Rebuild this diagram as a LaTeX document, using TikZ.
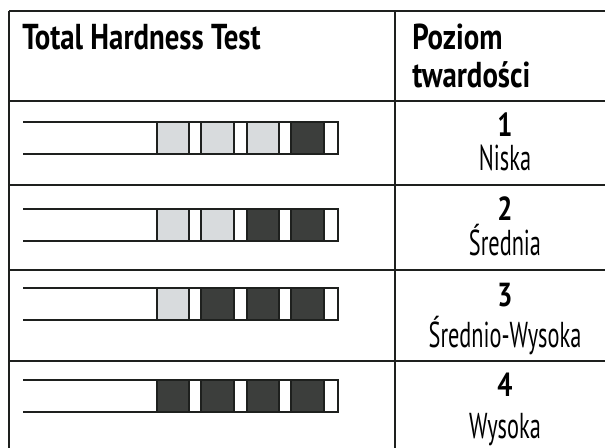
\documentclass[tikz,border=0pt]{standalone}
\usepackage{fontspec}
\setmainfont{PT Sans}[FakeStretch=0.62]
\newfontfamily\headfont{PT Sans}[FakeStretch=0.8]
\definecolor{padlight}{RGB}{216,219,221}
\definecolor{paddark}{RGB}{60,62,60}
\definecolor{rulecol}{RGB}{30,32,30}

\begin{document}
\begin{tikzpicture}[x=0.75pt,y=0.75pt,yscale=-1,xscale=1,
  rule/.style={draw=rulecol,line width=2.2pt},
  stripline/.style={draw=rulecol,line width=1.1pt},
  lightpad/.style={fill=padlight,draw=rulecol,line width=1.1pt},
  darkpad/.style={fill=paddark,draw=rulecol,line width=1.1pt},
  head/.style={anchor=base west,inner sep=0pt,font=\headfont\bfseries\fontsize{27}{30}\selectfont},
  num/.style={anchor=base,inner sep=0pt,font=\headfont\bfseries\fontsize{25}{28}\selectfont},
  lvl/.style={anchor=base,inner sep=0pt,font=\fontsize{27}{30}\selectfont}]
\useasboundingbox (0,0) rectangle (605,448);
\clip (0,0) rectangle (605,448);

%Table rules
\draw[rule] (9,11) -- (615,11);
\draw[rule] (9,101) -- (615,101);
\draw[rule] (9,185) -- (615,185);
\draw[rule] (9,270) -- (615,270);
\draw[rule] (9,361) -- (615,361);
\draw[rule] (9,11) -- (9,460);
\draw[rule] (395,11) -- (395,460);

%Test strips
\foreach \y/\a/\b/\c/\d in {122/lightpad/lightpad/lightpad/darkpad,
  209/lightpad/lightpad/darkpad/darkpad,
  288/lightpad/darkpad/darkpad/darkpad,
  380/darkpad/darkpad/darkpad/darkpad} {
  \draw[stripline] (23,\y) -- (338,\y) -- (338,\y+32) -- (23,\y+32);
  \draw[\a] (157,\y) rectangle (189,\y+32);
  \draw[\b] (201,\y) rectangle (234,\y+32);
  \draw[\c] (247,\y) rectangle (279,\y+32);
  \draw[\d] (291,\y) rectangle (324,\y+32);
}

% Text Node
\node[head] (title) at (22,50) {Total Hardness Test};
\node[head] (levela) at (412,50) {Poziom};
\node[head] (levelb) at (412,88) {twardości};
% Text Node
\node[num] (num1) at (505,137) {1};
\node[lvl] (lvl1) at (505,171) {Niska};
\node[num] (num2) at (505,221) {2};
\node[lvl] (lvl2) at (505,256) {Średnia};
\node[num] (num3) at (505,306) {3};
\node[lvl] (lvl3) at (505,347) {Średnio-Wysoka};
\node[num] (num4) at (505,396) {4};
\node[lvl] (lvl4) at (505,438) {Wysoka};
\end{tikzpicture}
\end{document}
